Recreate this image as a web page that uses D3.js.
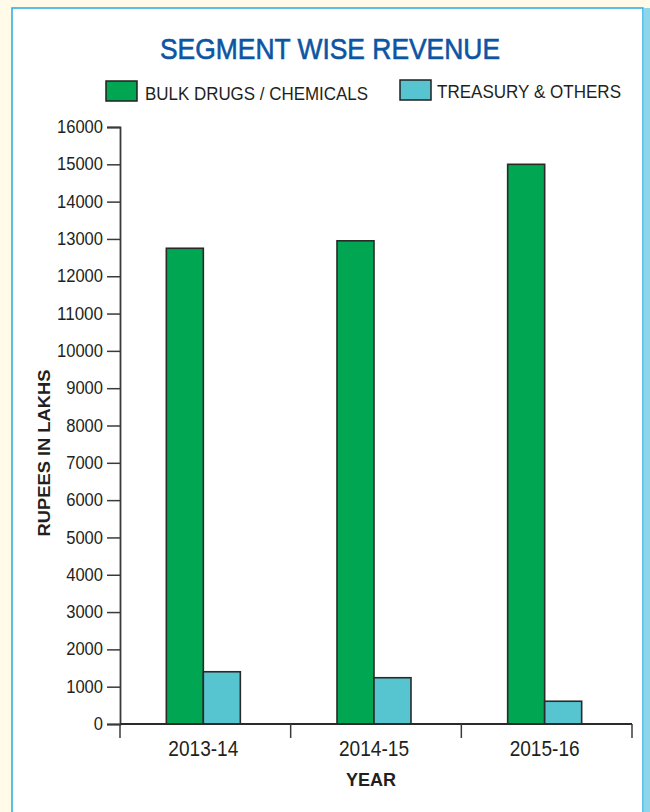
<!DOCTYPE html>
<html>
<head>
<meta charset="utf-8">
<script src="https://cdn.jsdelivr.net/npm/d3@7/dist/d3.min.js"></script>
<style>
  html, body { margin: 0; padding: 0; background: #fffbe8; }
  svg { display: block; }
  text { font-family: "Liberation Sans", Arial, sans-serif; fill: #231f20; }
</style>
</head>
<body>
<svg id="chart" width="650" height="812"></svg>
<script>
const categories = ["2013-14", "2014-15", "2015-16"];
const seriesNames = ["BULK DRUGS / CHEMICALS", "TREASURY & OTHERS"];
const bulkDrugs = [12750, 12950, 15000];
const treasury = [1400, 1240, 610];
const yTicks = [0,1000,2000,3000,4000,5000,6000,7000,8000,9000,10000,11000,12000,13000,14000,15000,16000];
const colors = ["#00a651", "#57c5d0"];

const svg = d3.select("#chart");

// background panel
svg.append("rect").attr("x", 0).attr("y", 0).attr("width", 650).attr("height", 812).attr("fill", "#fffbe8");
svg.append("rect").attr("x", 12).attr("y", 8).attr("width", 631).attr("height", 820)
  .attr("fill", "#ffffff").attr("stroke", "#27aae1").attr("stroke-width", 1.5);
svg.append("rect").attr("x", 643.5).attr("y", 8).attr("width", 6.5).attr("height", 810).attr("fill", "#8bd6ec");

const margin = { left: 120, right: 632, top: 127, bottom: 724 };

const x = d3.scaleBand().domain(categories).range([margin.left, margin.right]).padding(0);
const y = d3.scaleLinear().domain([0, 16000]).range([margin.bottom, margin.top]);

// title
svg.append("text").attr("x", 330).attr("y", 59).attr("text-anchor", "middle")
  .attr("font-size", 29).attr("textLength", 340).attr("lengthAdjust", "spacingAndGlyphs")
  .style("fill", "#0b55a3").style("stroke", "#0b55a3").style("stroke-width", 0.6)
  .text("SEGMENT WISE REVENUE");

// legend
const legend = [
  { name: seriesNames[0], color: colors[0], sx: 106, sy: 81, tx: 145, ty: 100, tl: 223 },
  { name: seriesNames[1], color: colors[1], sx: 400, sy: 80, tx: 437, ty: 98, tl: 184 }
];
legend.forEach(l => {
  svg.append("rect").attr("x", l.sx).attr("y", l.sy).attr("width", 31).attr("height", 20)
    .attr("fill", l.color).attr("stroke", "#231f20").attr("stroke-width", 1.5);
  svg.append("text").attr("x", l.tx).attr("y", l.ty).attr("font-size", 17.5)
    .attr("textLength", l.tl).attr("lengthAdjust", "spacingAndGlyphs").text(l.name);
});

// y axis
const yAxis = d3.axisLeft(y).tickValues(yTicks).tickFormat(d3.format("d"))
  .tickSize(13).tickPadding(4).tickSizeOuter(13);
const gy = svg.append("g").attr("transform", `translate(${margin.left},0)`).call(yAxis);
gy.select(".domain").attr("stroke", "#3a3a3a").attr("stroke-width", 1.8);
gy.selectAll(".tick line").attr("stroke", "#3a3a3a").attr("stroke-width", 1.5);
gy.selectAll(".tick text").attr("font-size", 17.5).style("fill", "#231f20")
  .attr("font-family", "'Liberation Sans', Arial, sans-serif")
  .attr("textLength", d => String(d).length * 9.2).attr("lengthAdjust", "spacingAndGlyphs");

// bars
const barW = 37;
const offset = -2;
const groups = svg.append("g");
categories.forEach((c, i) => {
  const cx = x(c) + x.bandwidth() / 2 + offset;
  [bulkDrugs[i], treasury[i]].forEach((v, j) => {
    groups.append("rect")
      .attr("x", j === 0 ? cx - barW : cx)
      .attr("y", y(v))
      .attr("width", barW)
      .attr("height", y(0) - y(v))
      .attr("fill", colors[j])
      .attr("stroke", "#2a2a2a").attr("stroke-width", 1.6);
  });
});

// x axis
const boundaries = categories.map(c => x(c)).concat([margin.right]);
svg.append("line").attr("x1", margin.left).attr("x2", margin.right)
  .attr("y1", y(0)).attr("y2", y(0)).attr("stroke", "#2a2a2a").attr("stroke-width", 2.2);
boundaries.forEach(b => {
  svg.append("line").attr("x1", b).attr("x2", b).attr("y1", y(0)).attr("y2", y(0) + 14)
    .attr("stroke", "#3a3a3a").attr("stroke-width", 1.5);
});
categories.forEach(c => {
  svg.append("text").attr("x", x(c) + x.bandwidth() / 2 + offset).attr("y", 756)
    .attr("text-anchor", "middle").attr("font-size", 22.5)
    .attr("textLength", 70).attr("lengthAdjust", "spacingAndGlyphs").text(c);
});

// axis titles
svg.append("text").attr("x", 371).attr("y", 786).attr("text-anchor", "middle")
  .attr("font-size", 18).attr("font-weight", "bold").text("YEAR");
svg.append("text").attr("transform", "translate(50,453) rotate(-90)").attr("text-anchor", "middle")
  .attr("font-size", 17).attr("font-weight", "bold").attr("textLength", 167)
  .attr("lengthAdjust", "spacingAndGlyphs").text("RUPEES IN LAKHS");
</script>
</body>
</html>
